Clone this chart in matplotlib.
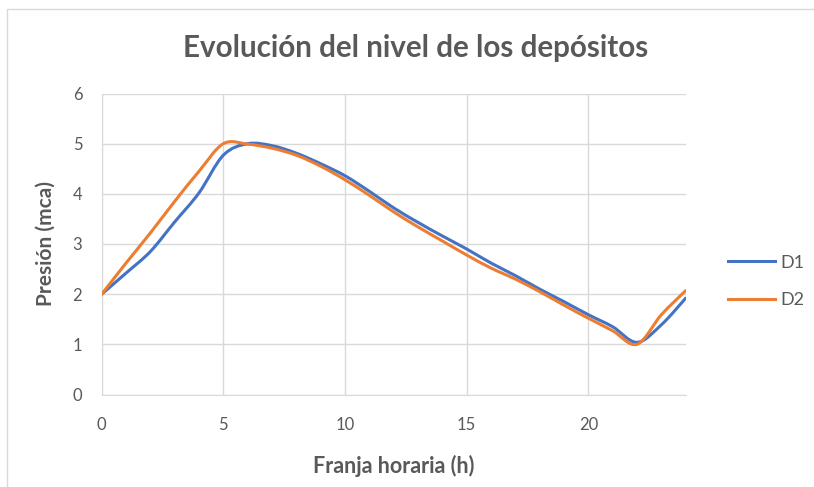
import matplotlib.pyplot as plt
from matplotlib.path import Path
from matplotlib.patches import PathPatch, Rectangle
from matplotlib.lines import Line2D

# datos (presión en mca por hora)
horas = list(range(25))
d1 = [2.0, 2.42, 2.85, 3.44, 4.02, 4.77, 5.0, 4.96, 4.81, 4.6, 4.36, 4.05,
      3.72, 3.43, 3.16, 2.9, 2.62, 2.37, 2.1, 1.85, 1.59, 1.35, 1.04, 1.39,
      1.92]
d2 = [2.0, 2.62, 3.22, 3.85, 4.45, 5.0, 4.99, 4.91, 4.77, 4.55, 4.28, 3.97,
      3.64, 3.34, 3.06, 2.78, 2.52, 2.3, 2.05, 1.78, 1.52, 1.27, 1.0, 1.59,
      2.07]
series = {'D1': (d1, '#4472C4'), 'D2': (d2, '#ED7D31')}

plt.rcParams['font.family'] = ['Lato', 'DejaVu Sans']
gris = '#595959'


def curva_suave(xs, ys):
    # segmentos Bezier tipo Catmull-Rom, como la línea suavizada de Excel
    pts = list(zip(xs, ys))
    verts = [pts[0]]
    codes = [Path.MOVETO]
    n = len(pts)
    for i in range(n - 1):
        p0 = pts[max(i - 1, 0)]
        p1 = pts[i]
        p2 = pts[i + 1]
        p3 = pts[min(i + 2, n - 1)]
        c1 = (p1[0] + (p2[0] - p0[0]) / 6, p1[1] + (p2[1] - p0[1]) / 6)
        c2 = (p2[0] - (p3[0] - p1[0]) / 6, p2[1] - (p3[1] - p1[1]) / 6)
        verts += [c1, c2, p2]
        codes += [Path.CURVE4] * 3
    return Path(verts, codes)


fig = plt.figure(figsize=(8.14, 4.87), dpi=100)
ax = fig.add_axes([101.7 / 814, 92.5 / 487, 584 / 814, 301 / 487])

# borde del área del gráfico
fig.patches.append(Rectangle((7 / 814, -0.1), 1.2, 1.1 - 9 / 487,
                             transform=fig.transFigure, fill=False,
                             edgecolor='#d9d9d9', lw=1))

handles = []
for nombre, (valores, color) in series.items():
    ax.add_patch(PathPatch(curva_suave(horas, valores), fill=False,
                           edgecolor=color, lw=2.2, capstyle='round',
                           joinstyle='round', zorder=3))
    handles.append(Line2D([], [], color=color, lw=2.2, label=nombre))

ax.set_xlim(0, 24)
ax.set_ylim(0, 6)
ax.set_xticks([0, 5, 10, 15, 20])
ax.set_yticks(range(7))
ax.grid(True, color='#d9d9d9', lw=1)
ax.set_axisbelow(True)
for lado in ['top', 'right']:
    ax.spines[lado].set_visible(False)
ax.spines['left'].set_color('#d9d9d9')
ax.spines['bottom'].set_color('#d9d9d9')
ax.tick_params(length=0, labelsize=12, colors=gris)
ax.tick_params(axis='x', pad=16)
ax.tick_params(axis='y', pad=14)

ax.set_xlabel('Franja horaria (h)', fontsize=15.5, fontweight='bold',
              color=gris, labelpad=16)
ax.set_ylabel('Presión (mca)', fontsize=15, fontweight='bold',
              color=gris, labelpad=12)
fig.suptitle('Evolución del nivel de los depósitos', x=0.51, y=0.93,
             fontsize=21.3, fontweight='bold', color=gris)

ax.legend(handles=handles, loc='center left', bbox_to_anchor=(1.045, 0.375),
          frameon=False, fontsize=13, labelcolor=gris, handlelength=2.6,
          handletextpad=0.3, labelspacing=1.2)

fig.savefig('out.png', dpi=100)
